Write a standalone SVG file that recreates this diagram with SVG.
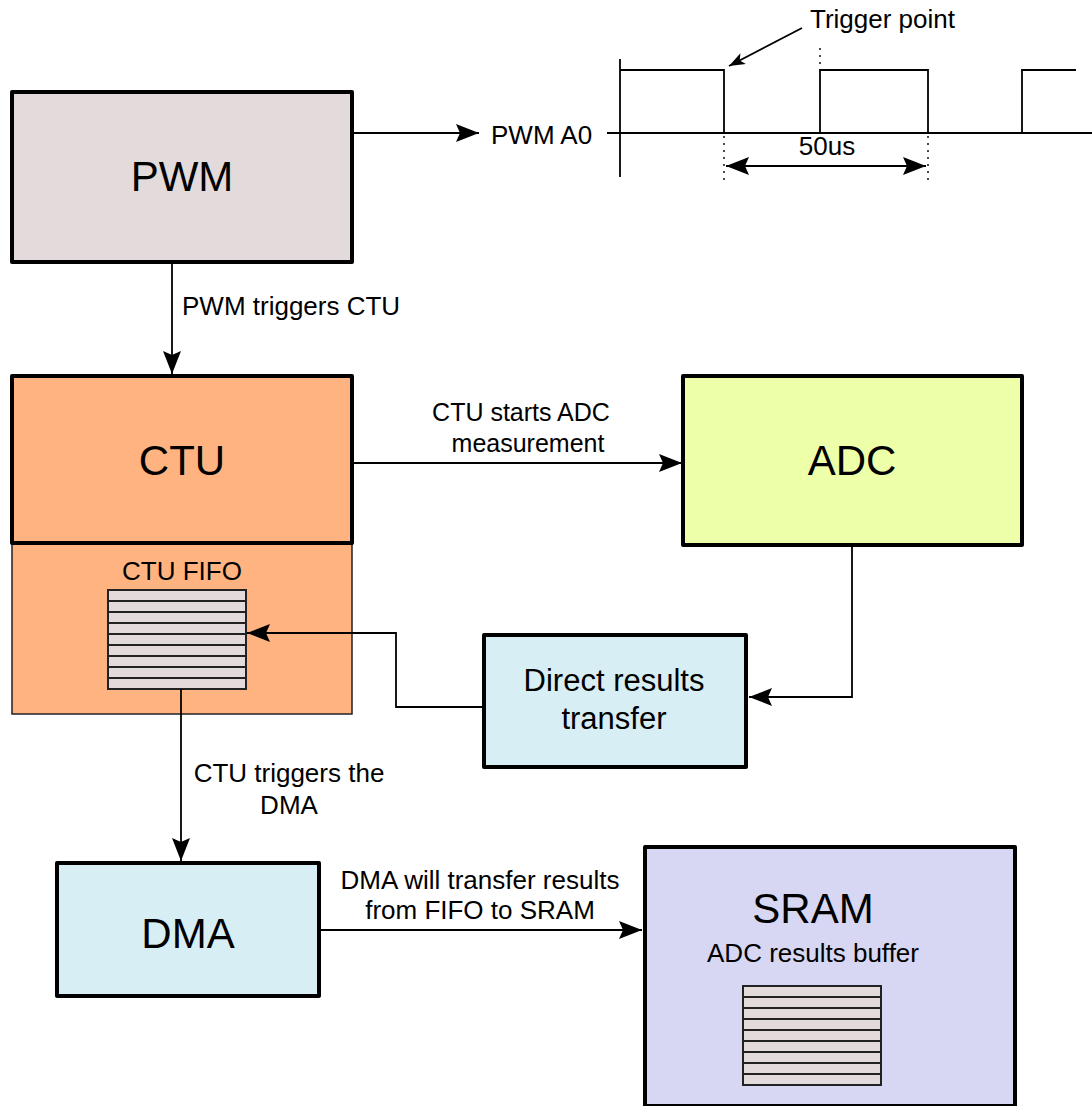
<svg xmlns="http://www.w3.org/2000/svg" width="1092" height="1106" viewBox="0 0 1092 1106">
  <defs>
    <marker id="arr" viewBox="0 0 23 18" refX="23" refY="9" markerWidth="23" markerHeight="18" markerUnits="userSpaceOnUse" orient="auto">
      <path d="M0,0 L23,9 L0,18 L4,9 Z" fill="#000"/>
    </marker>
    <marker id="arrS" viewBox="0 0 23 18" refX="0" refY="9" markerWidth="23" markerHeight="18" markerUnits="userSpaceOnUse" orient="auto">
      <path d="M23,0 L0,9 L23,18 L19,9 Z" fill="#000"/>
    </marker>
    <marker id="arrSmall" viewBox="0 0 16 12" refX="16" refY="6" markerWidth="16" markerHeight="12" markerUnits="userSpaceOnUse" orient="auto">
      <path d="M0,0 L16,6 L0,12 L4,6 Z" fill="#000"/>
    </marker>
    <!-- one 9-slot FIFO stack -->
    <g id="stack">
      <rect x="0" y="0" width="138" height="99" fill="#e3dbdb" stroke="#222" stroke-width="2"/>
      <path d="M0,11H138M0,22H138M0,33H138M0,44H138M0,55H138M0,66H138M0,77H138M0,88H138" stroke="#222" stroke-width="2" fill="none"/>
    </g>
  </defs>
  <style>
    text { font-family: "Liberation Sans", Arial, sans-serif; fill: #000; }
    .big { font-size: 42px; text-anchor: middle; }
    .mid { font-size: 31px; text-anchor: middle; }
    .lbl { font-size: 26px; }
    .c { text-anchor: middle; }
    .box { stroke: #000; stroke-width: 4; stroke-linejoin: round; }
    .ln { stroke: #000; stroke-width: 1.8; fill: none; }
    .dot { stroke: #000; stroke-width: 1.4; stroke-dasharray: 2 5; fill: none; }
  </style>

  <rect width="1092" height="1106" fill="#fff"/>

  <!-- timing waveform -->
  <g id="waveform">
    <line class="ln" x1="607" y1="133" x2="1092" y2="133" stroke-width="2.2"/>
    <line class="ln" x1="620" y1="59" x2="620" y2="177" stroke-width="2"/>
    <path class="ln" stroke-width="2" d="M620,70H724V133M820,133V70H928V133M1022,133V70H1076"/>
    <line class="dot" x1="820" y1="48" x2="820" y2="70"/>
    <line class="dot" x1="724" y1="136" x2="724" y2="184"/>
    <line class="dot" x1="928" y1="136" x2="928" y2="184"/>
    <line class="ln" x1="726" y1="166" x2="926" y2="166" stroke-width="2" marker-start="url(#arrS)" marker-end="url(#arr)"/>
    <text class="lbl c" x="827" y="155">50us</text>
    <text class="lbl" x="491" y="144">PWM A0</text>
    <text class="lbl" x="810" y="28">Trigger point</text>
    <line class="ln" x1="802" y1="28" x2="729" y2="66" marker-end="url(#arrSmall)"/>
  </g>

  <!-- PWM -->
  <g id="pwm">
    <rect class="box" x="12" y="92" width="340" height="170" fill="#e3dbdb"/>
    <text class="big" x="182" y="191">PWM</text>
  </g>

  <!-- CTU with its FIFO -->
  <g id="ctu">
    <rect x="12" y="543" width="340" height="171" fill="#ffb380" stroke="#222" stroke-width="1.5"/>
    <rect class="box" x="12" y="376" width="340" height="167" fill="#ffb380"/>
    <text class="big" x="182" y="475">CTU</text>
    <text class="lbl c" x="182" y="580">CTU FIFO</text>
    <use href="#stack" x="108" y="590"/>
  </g>

  <!-- ADC -->
  <g id="adc">
    <rect class="box" x="683" y="376" width="339" height="169" fill="#eeffaa"/>
    <text class="big" x="852" y="475">ADC</text>
  </g>

  <!-- Direct results transfer -->
  <g id="direct">
    <rect class="box" x="484" y="635" width="262" height="132" fill="#d7eef4"/>
    <text class="mid" x="614" y="691">Direct results</text>
    <text class="mid" x="614" y="729">transfer</text>
  </g>

  <!-- DMA -->
  <g id="dma">
    <rect class="box" x="57" y="863" width="262" height="133" fill="#d7eef4"/>
    <text class="big" x="188" y="948">DMA</text>
  </g>

  <!-- SRAM -->
  <g id="sram">
    <rect class="box" x="645" y="847" width="370" height="259" fill="#d7d7f4"/>
    <text class="big" x="813" y="923">SRAM</text>
    <text class="lbl c" x="813" y="962">ADC results buffer</text>
    <use href="#stack" x="743" y="986"/>
  </g>

  <!-- connectors -->
  <g id="connectors">
    <line class="ln" x1="353" y1="133" x2="479" y2="133" marker-end="url(#arr)"/>
    <line class="ln" x1="172" y1="263" x2="172" y2="374" marker-end="url(#arr)"/>
    <text class="lbl" x="182" y="315">PWM triggers CTU</text>
    <line class="ln" x1="353" y1="463" x2="682" y2="463" marker-end="url(#arr)"/>
    <text class="lbl c" x="521" y="421" style="font-size:25px">CTU starts ADC</text>
    <text class="lbl c" x="528" y="452" style="font-size:25px">measurement</text>
    <polyline class="ln" points="852,546 852,697 749,697" marker-end="url(#arr)"/>
    <polyline class="ln" points="483,707 396,707 396,633 247,633" marker-end="url(#arr)"/>
    <line class="ln" x1="181" y1="689" x2="181" y2="861" marker-end="url(#arr)"/>
    <text class="lbl c" x="289" y="782">CTU triggers the</text>
    <text class="lbl c" x="289" y="814">DMA</text>
    <line class="ln" x1="321" y1="930" x2="642" y2="930" marker-end="url(#arr)"/>
    <text class="lbl c" x="480" y="889">DMA will transfer results</text>
    <text class="lbl c" x="480" y="919">from FIFO to SRAM</text>
  </g>
</svg>
